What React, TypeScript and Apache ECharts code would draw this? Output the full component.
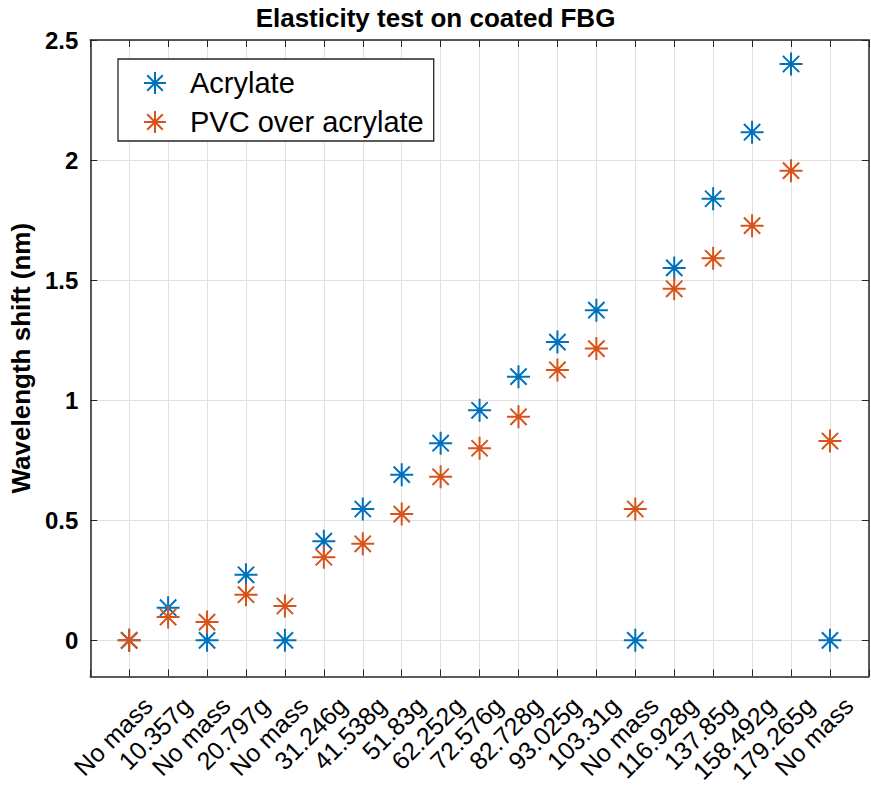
import React, { useEffect, useRef } from "react";
import * as echarts from "echarts";

const categories = [
  "No mass", "10.357g", "No mass", "20.797g", "No mass", "31.246g", "41.538g",
  "51.83g", "62.252g", "72.576g", "82.728g", "93.025g", "103.31g", "No mass",
  "116.928g", "137.85g", "158.492g", "179.265g", "No mass",
];
const acrylate = [
  0, 0.136, 0, 0.273, 0, 0.413, 0.547, 0.69, 0.821, 0.958, 1.098, 1.242, 1.375,
  0, 1.551, 1.839, 2.116, 2.4, 0,
];
const pvcOverAcrylate = [
  0, 0.097, 0.076, 0.19, 0.143, 0.346, 0.402, 0.526, 0.681, 0.8, 0.931, 1.126,
  1.215, 0.547, 1.464, 1.591, 1.727, 1.956, 0.83,
];
const yTicks = [0, 0.5, 1, 1.5, 2, 2.5];

const STAR =
  "path://M12,0L12,24M0,12L24,12M3.5,3.5L20.5,20.5M3.5,20.5L20.5,3.5";
const FONT = "'Liberation Sans', Arial, Helvetica, sans-serif";
const BLUE = "#0072BD";
const ORANGE = "#D95319";
const AXIS = "#262626";
const GRID = "#e0e0e0";

export default function App() {
  const ref = useRef<HTMLDivElement>(null);
  useEffect(() => {
    if (!ref.current) return;
    const chart = echarts.init(ref.current, null, { renderer: "svg" });
    const xBase = {
      type: "value",
      min: 0,
      max: 20,
      interval: 1,
    };
    const option: any = {
      animation: false,
      backgroundColor: "#fff",
      textStyle: { fontFamily: FONT },
      title: {
        text: "Elasticity test on coated FBG",
        left: "center",
        top: 0,
        textStyle: { fontSize: 26, fontWeight: "bold", color: "#000", fontFamily: FONT },
      },
      legend: {
        orient: "vertical",
        left: 118,
        top: 59,
        padding: [8, 10, 3, 25],
        itemGap: 7,
        itemWidth: 22,
        itemHeight: 22,
        borderColor: AXIS,
        borderWidth: 1.3,
        backgroundColor: "#fff",
        textStyle: {
          fontSize: 29,
          lineHeight: 32,
          color: "#000",
          fontFamily: FONT,
          padding: [0, 0, 0, 19],
        },
        data: [
          { name: "Acrylate", icon: STAR },
          { name: "PVC over acrylate", icon: STAR },
        ],
      },
      grid: { left: 87, top: 40, width: 796, height: 637, containLabel: false },
      xAxis: [
        {
          ...xBase,
          position: "bottom",
          axisLine: { show: true, onZero: false, lineStyle: { color: AXIS, width: 1.5 } },
          axisTick: { show: true, inside: true, length: 7, lineStyle: { color: AXIS } },
          splitLine: { show: true, lineStyle: { color: GRID, width: 1 } },
          axisLabel: {
            rotate: 45,
            margin: 26,
            verticalAlign: "top",
            padding: [0, -14, 0, 0],
            fontSize: 25,
            color: "#000",
            fontFamily: FONT,
            formatter: (v: number) => categories[Math.round(v) - 1] ?? "",
          },
        },
        {
          ...xBase,
          position: "top",
          axisLine: { show: true, onZero: false, lineStyle: { color: AXIS, width: 1.5 } },
          axisTick: { show: true, inside: true, length: 7, lineStyle: { color: AXIS } },
          splitLine: { show: false },
          axisLabel: { show: false },
        },
      ],
      yAxis: [
        {
          type: "value",
          min: -0.15,
          max: 2.5,
          position: "left",
          axisLine: { show: true, onZero: false, lineStyle: { color: AXIS, width: 1.5 } },
          axisTick: { show: true, inside: true, length: 7, lineStyle: { color: AXIS }, customValues: yTicks },
          splitLine: { show: true, lineStyle: { color: GRID, width: 1 } },
          axisLabel: {
            customValues: yTicks,
            margin: 12,
            fontSize: 24,
            fontWeight: "bold",
            color: "#000",
            fontFamily: FONT,
            formatter: (v: number) => (v < 0 ? "" : String(v)),
          },
          name: "Wavelength shift (nm)",
          nameLocation: "middle",
          nameGap: 54,
          nameTextStyle: { fontSize: 26, fontWeight: "bold", color: "#000", fontFamily: FONT },
        },
        {
          type: "value",
          min: -0.15,
          max: 2.5,
          position: "right",
          axisLine: { show: true, onZero: false, lineStyle: { color: AXIS, width: 1.5 } },
          axisTick: { show: true, inside: true, length: 7, lineStyle: { color: AXIS }, customValues: yTicks },
          splitLine: { show: false },
          axisLabel: { show: false },
        },
      ],
      series: [
        {
          name: "Acrylate",
          type: "scatter",
          symbol: STAR,
          symbolSize: 23,
          itemStyle: { color: BLUE, borderColor: BLUE, borderWidth: 2, opacity: 1 },
          data: categories.map((_, i) => [i + 1, acrylate[i]]),
        },
        {
          name: "PVC over acrylate",
          type: "scatter",
          symbol: STAR,
          symbolSize: 23,
          itemStyle: { color: ORANGE, borderColor: ORANGE, borderWidth: 2, opacity: 1 },
          data: categories.map((_, i) => [i + 1, pvcOverAcrylate[i]]),
        },
      ],
    };
    chart.setOption(option);
    return () => chart.dispose();
  }, []);
  return (
    <div
      ref={ref}
      style={{ position: "absolute", left: 0, top: 0, width: 871, height: 786 }}
    />
  );
}
